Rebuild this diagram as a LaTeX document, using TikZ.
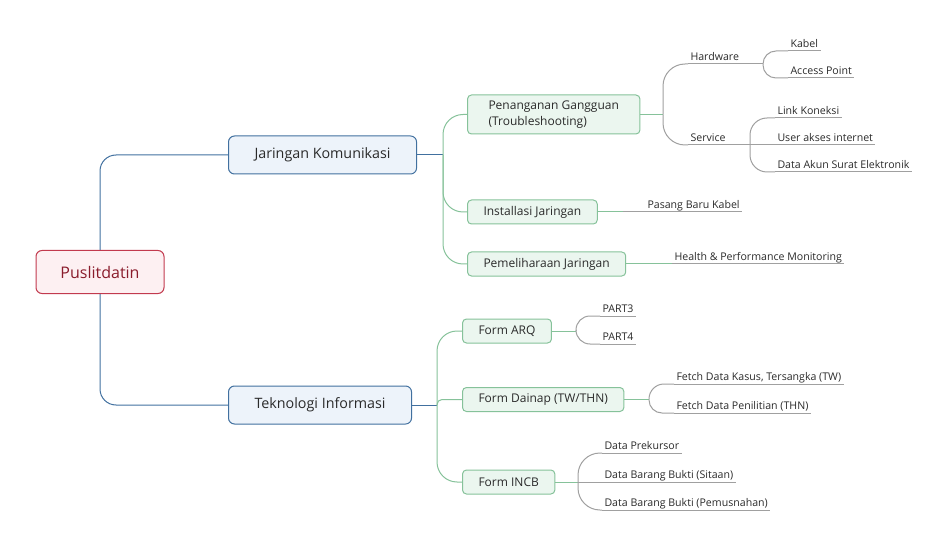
\documentclass[tikz,border=0pt]{standalone}
\usepackage{fontspec}
\setmainfont{Open Sans}
\definecolor{rootline}{HTML}{C23A4E}
\definecolor{rootfill}{HTML}{FDF0F2}
\definecolor{roottext}{HTML}{8A1C2C}
\definecolor{blueline}{HTML}{41709F}
\definecolor{bluefill}{HTML}{EDF3FA}
\definecolor{greenline}{HTML}{86C29A}
\definecolor{greenfill}{HTML}{EBF6EF}
\definecolor{grayline}{HTML}{A0A0A0}
\definecolor{inktext}{HTML}{2A2A2A}
\begin{document}
\begin{tikzpicture}
[x=1pt,y=-1pt,line width=1pt,
rootbox/.style={draw=rootline,fill=rootfill,text=roottext,rounded corners=6pt,font=\fontsize{16}{19}\selectfont,minimum width=128pt,minimum height=43pt},
mainbox/.style={draw=blueline,fill=bluefill,text=inktext,rounded corners=6pt,font=\fontsize{14.3}{17}\selectfont,minimum height=38pt,inner xsep=26pt,anchor=west},
subbox/.style={draw=greenline,fill=greenfill,text=inktext,rounded corners=4pt,font=\fontsize{12}{16}\selectfont,minimum height=24pt,inner xsep=16pt,anchor=west,align=left},
leaf/.style={text=inktext,font=\fontsize{10.6}{13}\selectfont,inner xsep=2pt,inner ysep=1pt,text height=8pt,text depth=2.3pt,anchor=south west},
bluelink/.style={draw=blueline,rounded corners=16pt},
greenlink/.style={draw=greenline,rounded corners=20pt},
graylink/.style={draw=grayline,rounded corners=#1},
graylink/.default=15pt]
\useasboundingbox (0,0) rectangle (947,545);

\node (root) at (100,272) [rootbox] {Puslitdatin};
\node (jk) at (228,155) [mainbox] {Jaringan Komunikasi};
\node (ti) at (228,405) [mainbox] {Teknologi Informasi};

\node (pg) at (467,114.5) [subbox,inner xsep=21pt,minimum height=39pt] {Penanganan Gangguan\\(Troubleshooting)};
\node (ij) at (467,212) [subbox] {Installasi Jaringan};
\node (pj) at (467,264) [subbox] {Pemeliharaan Jaringan};
\node (arq) at (462,331) [subbox] {Form ARQ};
\node (din) at (462,399.5) [subbox] {Form Dainap (TW/THN)};
\node (incb) at (462,482) [subbox] {Form INCB};

\node (hw) at (688,64) [leaf] {Hardware};
\node (sv) at (688,145) [leaf] {Service};
\node (kb) at (788,51) [leaf] {Kabel};
\node (ap) at (788,78) [leaf] {Access Point};
\node (lk) at (775,118) [leaf] {Link Koneksi};
\node (ua) at (775,145) [leaf] {User akses internet};
\node (da) at (775,172) [leaf] {Data Akun Surat Elektronik};
\node (pbk) at (645,212) [leaf] {Pasang Baru Kabel};
\node (hpm) at (672,264) [leaf] {Health \& Performance Monitoring};
\node (p3) at (600,316) [leaf] {PART3};
\node (p4) at (600,344) [leaf] {PART4};
\node (fk) at (674,384) [leaf] {Fetch Data Kasus, Tersangka (TW)};
\node (fp) at (674,413) [leaf] {Fetch Data Penilitian (THN)};
\node (dp) at (602,453) [leaf] {Data Prekursor};
\node (ds) at (602,482) [leaf] {Data Barang Bukti (Sitaan)};
\node (dpm) at (602,510) [leaf] {Data Barang Bukti (Pemusnahan)};

% fork points
\coordinate (jk-f) at (443,155);
\coordinate (ti-f) at (437,405);
\coordinate (pg-f) at (663,114.5);
\coordinate (ij-f) at (623,212);
\coordinate (pj-f) at (673,264);
\coordinate (arq-f) at (576,331);
\coordinate (din-f) at (649,399.5);
\coordinate (incb-f) at (578,482);
\coordinate (hw-f) at (763,64);
\coordinate (sv-f) at (750,145);

\foreach \to in {jk, ti}
	\draw [bluelink] (root) |- (\to.west);
\draw [blueline] (jk.east) -- (jk-f);
\draw [blueline] (ti.east) -- (ti-f);

\foreach \from/\to in {jk-f/pg, jk-f/ij, jk-f/pj, ti-f/arq, ti-f/incb}
	\draw [greenlink] (\from) |- (\to.west);
\draw [greenlink,rounded corners=5pt] (ti-f) |- (din.west);

\foreach \from in {pg, ij, pj, arq, din, incb}
	\draw [greenline] (\from.east) -- (\from-f);

\foreach \from/\to/\r in {pg-f/hw/22pt, pg-f/sv/22pt, ij-f/pbk/0pt, pj-f/hpm/0pt,
	arq-f/p3/14pt, arq-f/p4/14pt, din-f/fk/15pt, din-f/fp/13pt,
	incb-f/dp/22pt, incb-f/ds/0pt, incb-f/dpm/22pt,
	hw-f/kb/13pt, hw-f/ap/13pt, sv-f/lk/17pt, sv-f/ua/0pt, sv-f/da/17pt}
	\draw [graylink=\r] (\from) |- (\to.south west);
\draw [grayline] (hw.south east) -- (hw-f);
\draw [grayline] (sv.south east) -- (sv-f);

% underlines
\foreach \n in {hw, sv, kb, ap, lk, ua, da, pbk, hpm, p3, p4, fk, fp, dp, ds, dpm}
	\draw [grayline] (\n.south west) -- (\n.south east);

\end{tikzpicture}
\end{document}
